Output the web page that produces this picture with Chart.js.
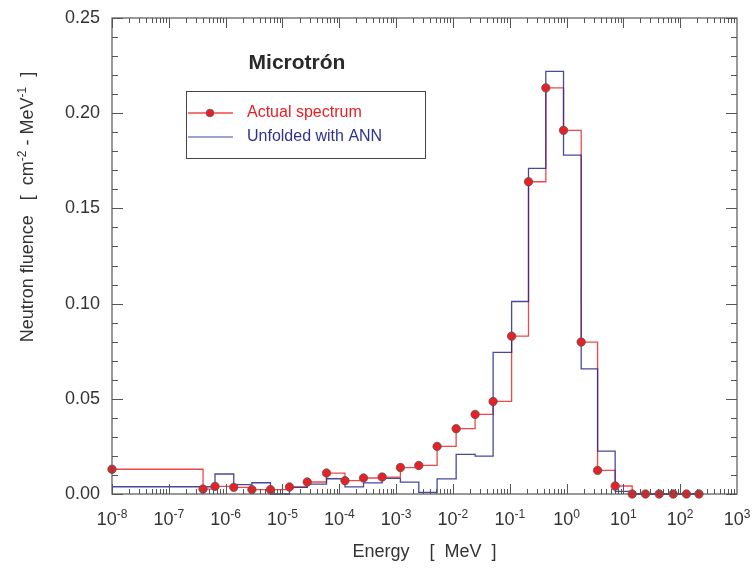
<!DOCTYPE html>
<html>
<head>
<meta charset="utf-8">
<script src="https://cdn.jsdelivr.net/npm/chart.js@4"></script>
<style>
  html, body { margin: 0; padding: 0; background: #fff; }
  #c { display: block; }
</style>
</head>
<body>
<canvas id="c" width="756" height="575"></canvas>
<script>
// ---- data ----
const energies = [1.0e-8, 4.0e-7, 6.5e-7, 1.39e-6, 2.9e-6, 6.15e-6, 1.33e-5, 2.73e-5, 5.96e-5, 1.26e-4,
  2.67e-4, 5.68e-4, 1.19e-3, 2.51e-3, 5.27e-3, 1.14e-2, 2.46e-2, 5.1e-2, 0.108, 0.214,
  0.432, 0.885, 1.81, 3.52, 7.17, 14.3, 24.5, 42.7, 75.3, 129, 214];
const actualSpectrum = [0.0130, 0.0026, 0.0040, 0.0035, 0.0023, 0.0023, 0.0037, 0.0063, 0.0110, 0.0070,
  0.0084, 0.0089, 0.0139, 0.0150, 0.0250, 0.0343, 0.0418, 0.0486, 0.0829, 0.1640,
  0.2133, 0.1910, 0.0798, 0.0124, 0.0042, 0.0, 0.0, 0.0, 0.0, 0.0, 0.0];
const unfoldedANN = [0.0038, 0.0038, 0.0105, 0.0049, 0.0059, 0.0, 0.0035, 0.0052, 0.0080, 0.0037,
  0.0058, 0.0082, 0.0062, 0.0009, 0.0079, 0.0208, 0.0199, 0.0744, 0.1011, 0.1710,
  0.2220, 0.1780, 0.0657, 0.0225, 0.0014, 0.0, 0.0, 0.0, 0.0, 0.0, 0.0];
const xTickExponents = [-8, -7, -6, -5, -4, -3, -2, -1, 0, 1, 2, 3];
const yTicks = [0, 0.05, 0.10, 0.15, 0.20, 0.25];
const yTickLabels = ['0.00', '0.05', '0.10', '0.15', '0.20', '0.25'];
const titleText = 'Microtrón';
const legendLabels = ['Actual spectrum', 'Unfolded with ANN'];

// step path: horizontal from each point to the next energy, then vertical
function stepPoints(E, V) {
  const pts = [];
  for (let i = 0; i < E.length; i++) {
    if (i > 0) pts.push({ x: E[i], y: V[i - 1] });
    pts.push({ x: E[i], y: V[i] });
  }
  return pts;
}

const RED = 'rgb(232,33,38)';
const REDLINE = 'rgba(236,40,44,0.85)';
const BLUE = 'rgba(40,40,140,0.85)';
const TXT = '#333333';
const FONT = '"Liberation Sans", Arial, Helvetica, sans-serif';

function drawSup(ctx, base, sup, x, y, size, align) {
  ctx.font = size + 'px ' + FONT;
  const wb = ctx.measureText(base).width;
  ctx.font = Math.round(size * 0.66) + 'px ' + FONT;
  const ws = ctx.measureText(sup).width;
  const total = wb + ws;
  let x0 = align === 'center' ? x - total / 2 : x;
  ctx.textAlign = 'left';
  ctx.textBaseline = 'alphabetic';
  ctx.font = size + 'px ' + FONT;
  ctx.fillText(base, x0, y);
  ctx.font = Math.round(size * 0.66) + 'px ' + FONT;
  ctx.fillText(sup, x0 + wb, y - size * 0.4);
  return total;
}

const decorPlugin = {
  id: 'decor',
  afterDatasetsDraw(chart) {
    const ctx = chart.ctx;
    const xs = chart.scales.x, ys = chart.scales.y;
    const a = chart.chartArea;
    ctx.save();
    // frame
    ctx.strokeStyle = '#555';
    ctx.lineWidth = 1.2;
    ctx.strokeRect(a.left, a.top, a.right - a.left, a.bottom - a.top);
    ctx.lineWidth = 1;
    ctx.strokeStyle = '#555';
    // x ticks (inward, bottom and top)
    ctx.beginPath();
    for (let e = -8; e < 3; e++) {
      for (let m = 1; m <= 9; m++) {
        const v = m * Math.pow(10, e);
        const px = Math.round(xs.getPixelForValue(v)) + 0.5;
        const len = m === 1 ? 10 : 5;
        ctx.moveTo(px, a.bottom); ctx.lineTo(px, a.bottom - len);
        ctx.moveTo(px, a.top); ctx.lineTo(px, a.top + len);
      }
    }
    // y ticks (inward, left and right)
    for (let k = 0; k <= 25; k++) {
      const v = k * 0.01;
      const py = Math.round(ys.getPixelForValue(v)) + 0.5;
      const len = k % 5 === 0 ? 11 : 6;
      ctx.moveTo(a.left, py); ctx.lineTo(a.left + len, py);
      ctx.moveTo(a.right, py); ctx.lineTo(a.right - len, py);
    }
    ctx.stroke();

    // x tick labels
    ctx.fillStyle = TXT;
    xTickExponents.forEach(e => {
      const px = xs.getPixelForValue(Math.pow(10, e));
      drawSup(ctx, '10', String(e), px, a.bottom + 31, 18, 'center');
    });
    // y tick labels
    ctx.font = '18px ' + FONT;
    ctx.textAlign = 'right';
    ctx.textBaseline = 'middle';
    yTicks.forEach((v, i) => {
      ctx.fillText(yTickLabels[i], a.left - 12, ys.getPixelForValue(v));
    });

    // x axis title
    ctx.font = '18px ' + FONT;
    ctx.textAlign = 'center';
    ctx.textBaseline = 'middle';
    ctx.fillText('Energy    [  MeV  ]', (a.left + a.right) / 2, 552);

    // y axis title (rotated, with superscripts)
    ctx.save();
    ctx.translate(27, 207);
    ctx.rotate(-Math.PI / 2);
    const parts = [['Neutron fluence   [  cm', '-2'], [' - MeV', '-1'], ['  ]', '']];
    let total = 0;
    parts.forEach(p => {
      ctx.font = '18px ' + FONT; total += ctx.measureText(p[0]).width;
      ctx.font = '12px ' + FONT; total += ctx.measureText(p[1]).width;
    });
    let x = -total / 2;
    parts.forEach(p => {
      x += drawSup(ctx, p[0], p[1], x, 6, 18, 'left');
    });
    ctx.restore();

    // title
    ctx.font = 'bold 21px ' + FONT;
    ctx.textAlign = 'center';
    ctx.textBaseline = 'middle';
    ctx.fillStyle = '#2a2a2a';
    ctx.fillText(titleText, 297, 63);

    // legend
    ctx.strokeStyle = '#444';
    ctx.lineWidth = 1;
    ctx.strokeRect(186.5, 91.5, 239, 67);
    ctx.lineWidth = 1.3;
    ctx.strokeStyle = REDLINE;
    ctx.beginPath(); ctx.moveTo(188, 113); ctx.lineTo(233, 113); ctx.stroke();
    ctx.beginPath(); ctx.arc(210, 113, 3.8, 0, Math.PI * 2);
    ctx.fillStyle = RED; ctx.fill();
    ctx.strokeStyle = '#555'; ctx.lineWidth = 0.8; ctx.stroke();
    ctx.lineWidth = 1.5;
    ctx.strokeStyle = 'rgb(130,130,190)';
    ctx.beginPath(); ctx.moveTo(188, 137); ctx.lineTo(233, 137); ctx.stroke();
    ctx.font = '16px ' + FONT;
    ctx.textAlign = 'left';
    ctx.textBaseline = 'middle';
    ctx.fillStyle = 'rgb(232,30,36)';
    ctx.fillText(legendLabels[0], 247, 113);
    ctx.fillStyle = 'rgb(46,49,146)';
    ctx.fillText(legendLabels[1], 247, 137);
    ctx.restore();
  }
};

new Chart(document.getElementById('c'), {
  type: 'scatter',
  data: {
    datasets: [
      {
        label: legendLabels[0] + ' (line)',
        data: stepPoints(energies, actualSpectrum),
        showLine: true, borderColor: REDLINE, borderWidth: 1.3,
        pointRadius: 0, fill: false, order: 3
      },
      {
        label: legendLabels[1],
        data: stepPoints(energies, unfoldedANN),
        showLine: true, borderColor: BLUE, borderWidth: 1.3,
        pointRadius: 0, fill: false, order: 2
      },
      {
        label: legendLabels[0],
        data: energies.map((e, i) => ({ x: e, y: actualSpectrum[i] })),
        showLine: false, pointRadius: 4.2, pointBackgroundColor: RED,
        pointBorderColor: '#555', pointBorderWidth: 0.8, order: 1
      }
    ]
  },
  options: {
    responsive: false,
    devicePixelRatio: 1,
    animation: false,
    events: [],
    layout: { padding: { left: 112, right: 19, top: 18, bottom: 81 } },
    plugins: { legend: { display: false }, tooltip: { enabled: false }, title: { display: false } },
    scales: {
      x: { type: 'logarithmic', min: 1e-8, max: 1e3, display: false },
      y: { type: 'linear', min: 0, max: 0.25, display: false }
    },
    clip: false
  },
  plugins: [decorPlugin]
});
</script>
</body>
</html>
